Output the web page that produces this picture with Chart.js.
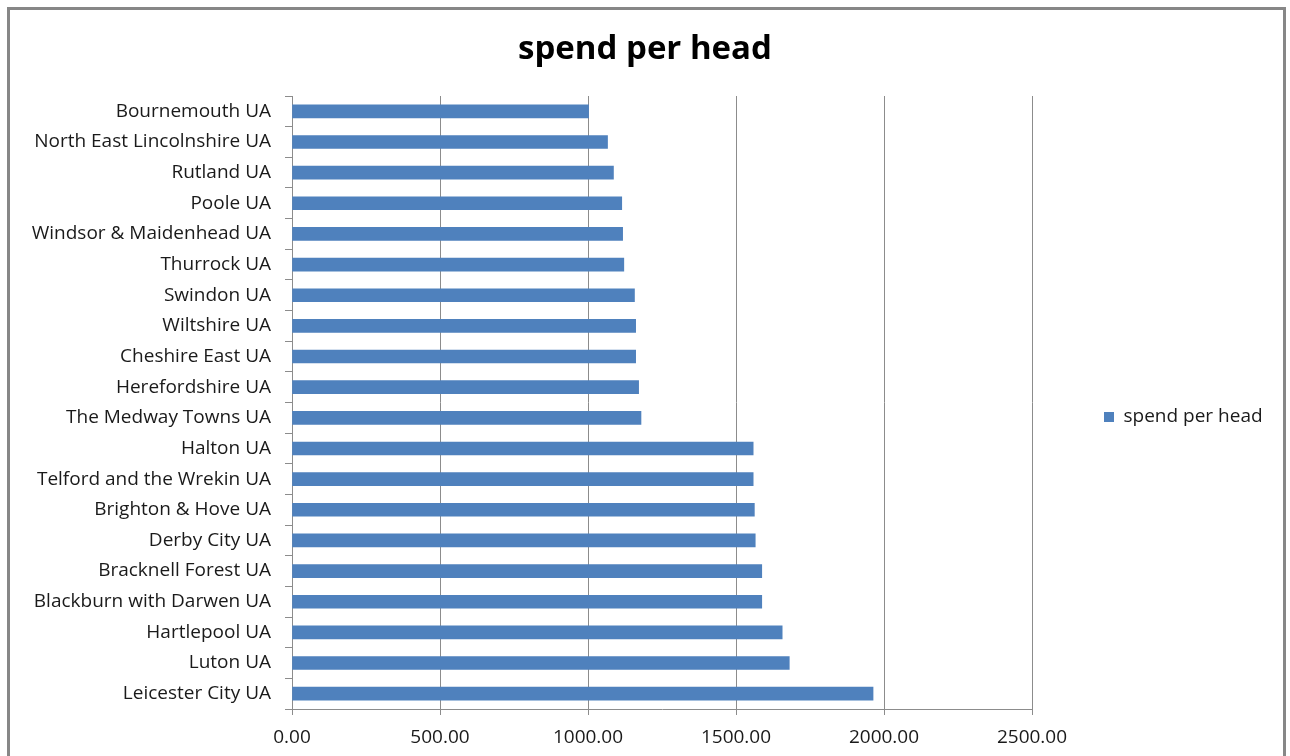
<!DOCTYPE html>
<html>
<head>
<meta charset="utf-8">
<script src="https://cdn.jsdelivr.net/npm/chart.js@4/dist/chart.umd.min.js"></script>
<style>
  html, body { margin: 0; padding: 0; background: #ffffff; }
  #wrap { position: absolute; left: 0; top: 0; width: 1290px; height: 756px; }
</style>
</head>
<body>
<div id="wrap"><canvas id="c" width="1290" height="756"></canvas></div>
<script>
const categories = [
  "Bournemouth UA",
  "North East Lincolnshire UA",
  "Rutland UA",
  "Poole UA",
  "Windsor & Maidenhead UA",
  "Thurrock UA",
  "Swindon UA",
  "Wiltshire UA",
  "Cheshire East UA",
  "Herefordshire UA",
  "The Medway Towns UA",
  "Halton UA",
  "Telford and the Wrekin UA",
  "Brighton & Hove UA",
  "Derby City UA",
  "Bracknell Forest UA",
  "Blackburn with Darwen UA",
  "Hartlepool UA",
  "Luton UA",
  "Leicester City UA"
];
const spendPerHead = [
  1002, 1066, 1086, 1114, 1117, 1121, 1157, 1161, 1161, 1171,
  1179, 1558, 1558, 1562, 1565, 1587, 1587, 1656, 1680, 1963
];
const seriesName = "spend per head";
const chartTitle = "spend per head";
const valueTicks = [0, 500, 1000, 1500, 2000, 2500];

const FONT = "'Open Sans', 'DejaVu Sans', sans-serif";
const GRID = "#8c8c8c";
const LABEL_SIZE = 19;

// measure legend item so that plot area ends at the right place
const mctx = document.createElement('canvas').getContext('2d');
mctx.font = LABEL_SIZE + "px " + FONT;
const legendTextW = mctx.measureText(seriesName).width;
const legendPad = 72;
const legendItemW = 10 + LABEL_SIZE / 2 + legendTextW;
const padSide = Math.max(0, 1290 - 1032 - legendPad - legendItemW - 10);

const borderPlugin = {
  id: 'outerBorder',
  beforeDraw(chart) {
    const ctx = chart.ctx;
    ctx.save();
    ctx.fillStyle = '#ffffff';
    ctx.fillRect(0, 0, chart.width, chart.height);
    ctx.strokeStyle = '#878787';
    ctx.lineWidth = 3;
    ctx.strokeRect(8.5, 8.5, 1276, 760);
    ctx.restore();
  }
};

new Chart(document.getElementById('c'), {
  type: 'bar',
  data: {
    labels: categories,
    datasets: [{
      label: seriesName,
      data: spendPerHead,
      backgroundColor: '#4f81bd',
      borderWidth: 0,
      barThickness: 13
    }]
  },
  options: {
    indexAxis: 'y',
    responsive: false,
    animation: false,
    layout: { padding: { left: padSide, right: padSide, top: 0, bottom: 0 } },
    plugins: {
      title: {
        display: true,
        text: chartTitle,
        color: '#000000',
        font: { family: FONT, size: 33, weight: 'bold', lineHeight: 1.2 },
        padding: { top: 30, bottom: 26.4 }
      },
      legend: {
        display: true,
        position: 'right',
        fullSize: false,
        title: { display: true, text: '', font: { size: 10, lineHeight: 1.2 }, padding: { top: 0, bottom: 17 } },
        labels: {
          boxWidth: 10,
          boxHeight: 10,
          padding: legendPad,
          color: '#1a1a1a',
          font: { family: FONT, size: LABEL_SIZE }
        }
      },
      tooltip: { enabled: false }
    },
    scales: {
      x: {
        type: 'linear',
        min: valueTicks[0],
        max: valueTicks[valueTicks.length - 1],
        afterBuildTicks(scale) { scale.ticks = valueTicks.map(v => ({ value: v })); },
        afterFit(scale) { scale.height = 47; },
        grid: { color: GRID, lineWidth: 1, drawTicks: true, tickLength: 6, tickColor: GRID },
        border: { display: true, color: GRID, width: 1 },
        ticks: {
          color: '#1a1a1a',
          padding: 11,
          font: { family: FONT, size: LABEL_SIZE },
          callback: v => Number(v).toFixed(2)
        }
      },
      y: {
        type: 'category',
        afterFit(scale) { scale.width = 292 - padSide; },
        grid: { display: true, drawOnChartArea: false, offset: true, drawTicks: true, tickLength: 7, color: GRID, tickColor: GRID },
        border: { display: true, color: GRID, width: 1 },
        ticks: {
          color: '#1a1a1a',
          padding: 14,
          autoSkip: false,
          font: { family: FONT, size: LABEL_SIZE }
        }
      }
    }
  },
  plugins: [borderPlugin]
});
</script>
</body>
</html>
